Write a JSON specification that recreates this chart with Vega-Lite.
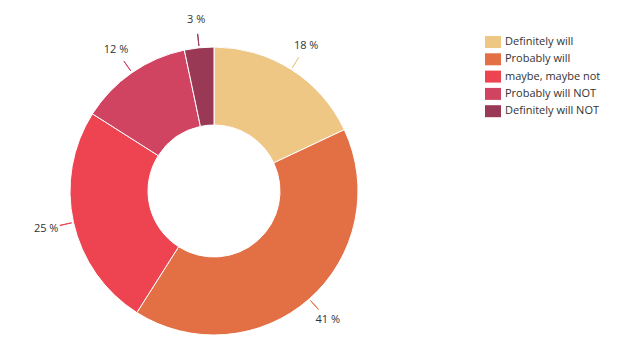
{
  "$schema": "https://vega.github.io/schema/vega-lite/v6.json",
  "width": 428,
  "height": 342,
  "autosize": "none",
  "padding": {"left": 0, "top": 20, "right": 206, "bottom": 0},
  "background": "white",
  "data": {
    "values": [
      {"i": 1, "answer": "Definitely will", "pct": 18.0, "label": "18 %"},
      {"i": 2, "answer": "Probably will", "pct": 41.0, "label": "41 %"},
      {"i": 3, "answer": "maybe, maybe not", "pct": 25.0, "label": "25 %"},
      {"i": 4, "answer": "Probably will NOT", "pct": 12.7, "label": "12 %"},
      {"i": 5, "answer": "Definitely will NOT", "pct": 3.3, "label": "3 %"}
    ]
  },
  "encoding": {
    "theta": {"field": "pct", "type": "quantitative", "stack": true},
    "order": {"field": "i", "type": "quantitative"},
    "color": {
      "field": "answer",
      "type": "nominal",
      "sort": ["Definitely will", "Probably will", "maybe, maybe not", "Probably will NOT", "Definitely will NOT"],
      "scale": {
        "domain": ["Definitely will", "Probably will", "maybe, maybe not", "Probably will NOT", "Definitely will NOT"],
        "range": ["#EFC785", "#E37045", "#EE4452", "#D14461", "#993955"]
      },
      "legend": {
        "orient": "none",
        "legendX": 485,
        "legendY": 14,
        "title": null,
        "padding": 0,
        "symbolType": "M-1,-0.75L1,-0.75L1,0.75L-1,0.75Z",
        "symbolSize": 256,
        "symbolStrokeWidth": 0,
        "rowPadding": 3.3,
        "labelFont": "Open Sans",
        "labelFontSize": 11,
        "labelColor": "#333333",
        "labelOffset": 4
      }
    }
  },
  "layer": [
    {
      "mark": {"type": "arc", "radius": 144, "innerRadius": 66, "stroke": "white", "strokeWidth": 1}
    },
    {
      "mark": {"type": "arc", "radius": 158, "innerRadius": 146, "padAngle": 3.14159, "filled": false, "strokeWidth": 1}
    },
    {
      "mark": {"type": "text", "radius": 172, "font": "Open Sans", "fontSize": 11, "fill": "#333333"},
      "encoding": {
        "text": {"field": "label"},
        "color": {"value": "#333333"}
      }
    }
  ],
  "view": {"stroke": null}
}
